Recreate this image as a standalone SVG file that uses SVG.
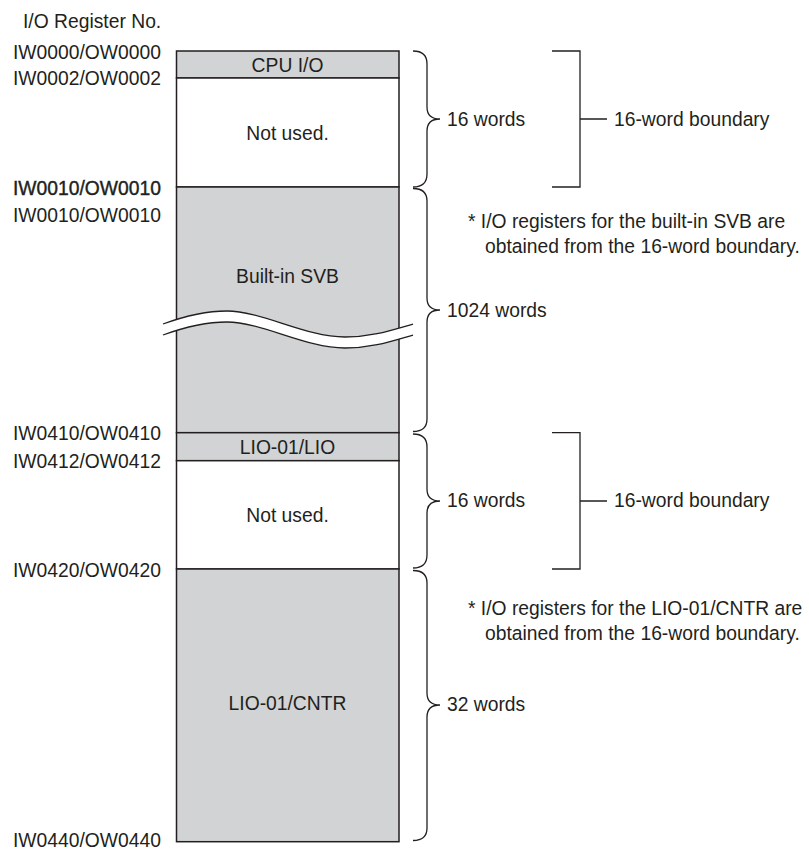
<svg xmlns="http://www.w3.org/2000/svg" width="809" height="852" viewBox="0 0 809 852">
<style>
  text { font-family: "Liberation Sans", Arial, sans-serif; font-size: 19.3px; fill: #231f20; }
  .mid { text-anchor: middle; }
  .box { stroke: #231f20; stroke-width: 1.5; }
  .gray { fill: #d1d3d4; }
  .white { fill: #ffffff; }
  .ln { fill: none; stroke: #231f20; stroke-width: 1.3; }
</style>
<rect width="809" height="852" fill="#ffffff"/>

<text x="23" y="28">I/O Register No.</text>

<g id="addr-labels">
  <text x="13" y="58.5">IW0000/OW0000</text>
  <text x="13" y="85">IW0002/OW0002</text>
  <text x="13" y="194.5" stroke="#231f20" stroke-width="0.4">IW0010/OW0010</text>
  <text x="13" y="222">IW0010/OW0010</text>
  <text x="13" y="440">IW0410/OW0410</text>
  <text x="13" y="468">IW0412/OW0412</text>
  <text x="13" y="576.5">IW0420/OW0420</text>
  <text x="13" y="847">IW0440/OW0440</text>
</g>

<g id="cpu-io">
  <rect class="box gray" x="176.5" y="51" width="222.5" height="27"/>
  <text class="mid" x="287.5" y="72">CPU I/O</text>
</g>
<g id="not-used-1">
  <rect class="box white" x="176.5" y="78" width="222.5" height="109"/>
  <text class="mid" x="287.5" y="139.5">Not used.</text>
</g>
<g id="builtin-svb">
  <rect class="box gray" x="176.5" y="187" width="222.5" height="245.7"/>
  <text class="mid" x="287.5" y="283">Built-in SVB</text>
</g>
<g id="lio">
  <rect class="box gray" x="176.5" y="432.7" width="222.5" height="28"/>
  <text class="mid" x="287.5" y="453.5">LIO-01/LIO</text>
</g>
<g id="not-used-2">
  <rect class="box white" x="176.5" y="460.7" width="222.5" height="108.3"/>
  <text class="mid" x="287.5" y="522">Not used.</text>
</g>
<g id="lio-cntr">
  <rect class="box gray" x="176.5" y="569" width="222.5" height="272.7"/>
  <text class="mid" x="287.5" y="710">LIO-01/CNTR</text>
</g>

<g id="break">
  <path fill="#ffffff" stroke="none" d="M163,324 C185,316 205,311 227,311 C262,311 305,337 345,337 C372,337 392,330 413,324 L413,335 C392,341 372,348 345,348 C305,348 262,322 227,322 C205,322 185,327 163,335 Z"/>
  <path class="ln" d="M163,324 C185,316 205,311 227,311 C262,311 305,337 345,337 C372,337 392,330 413,324"/>
  <path class="ln" d="M163,335 C185,327 205,322 227,322 C262,322 305,348 345,348 C372,348 392,341 413,335"/>
</g>

<g id="connectors">
  <path class="ln" d="M413,51 Q427,51 427,64 L427,107 Q427,119 440,119 Q427,119 427,131 L427,174 Q427,187 413,187"/>
  <path class="ln" d="M413,188.5 Q427,188.5 427,201 L427,298 Q427,310 440,310 Q427,310 427,322 L427,419 Q427,431.5 413,431.5"/>
  <path class="ln" d="M413,434 Q427,434 427,447 L427,489 Q427,501 440,501 Q427,501 427,513 L427,555 Q427,568 413,568"/>
  <path class="ln" d="M413,570.5 Q427,570.5 427,583 L427,693 Q427,705 440,705 Q427,705 427,717 L427,828 Q427,840.5 413,840.5"/>
  <path class="ln" d="M552,51 H580 V187 H552 M580,119 H607"/>
  <path class="ln" d="M552,432.7 H580 V569 H552 M580,501 H607"/>
</g>

<g id="brace-labels">
  <text x="447" y="126">16 words</text>
  <text x="614" y="126">16-word boundary</text>
  <text x="447" y="317">1024 words</text>
  <text x="468" y="228">* I/O registers for the built-in SVB are</text>
  <text x="485" y="253">obtained from the 16-word boundary.</text>
  <text x="447" y="507">16 words</text>
  <text x="614" y="507">16-word boundary</text>
  <text x="468" y="615">* I/O registers for the LIO-01/CNTR are</text>
  <text x="485" y="640">obtained from the 16-word boundary.</text>
  <text x="447" y="711">32 words</text>
</g>
</svg>
